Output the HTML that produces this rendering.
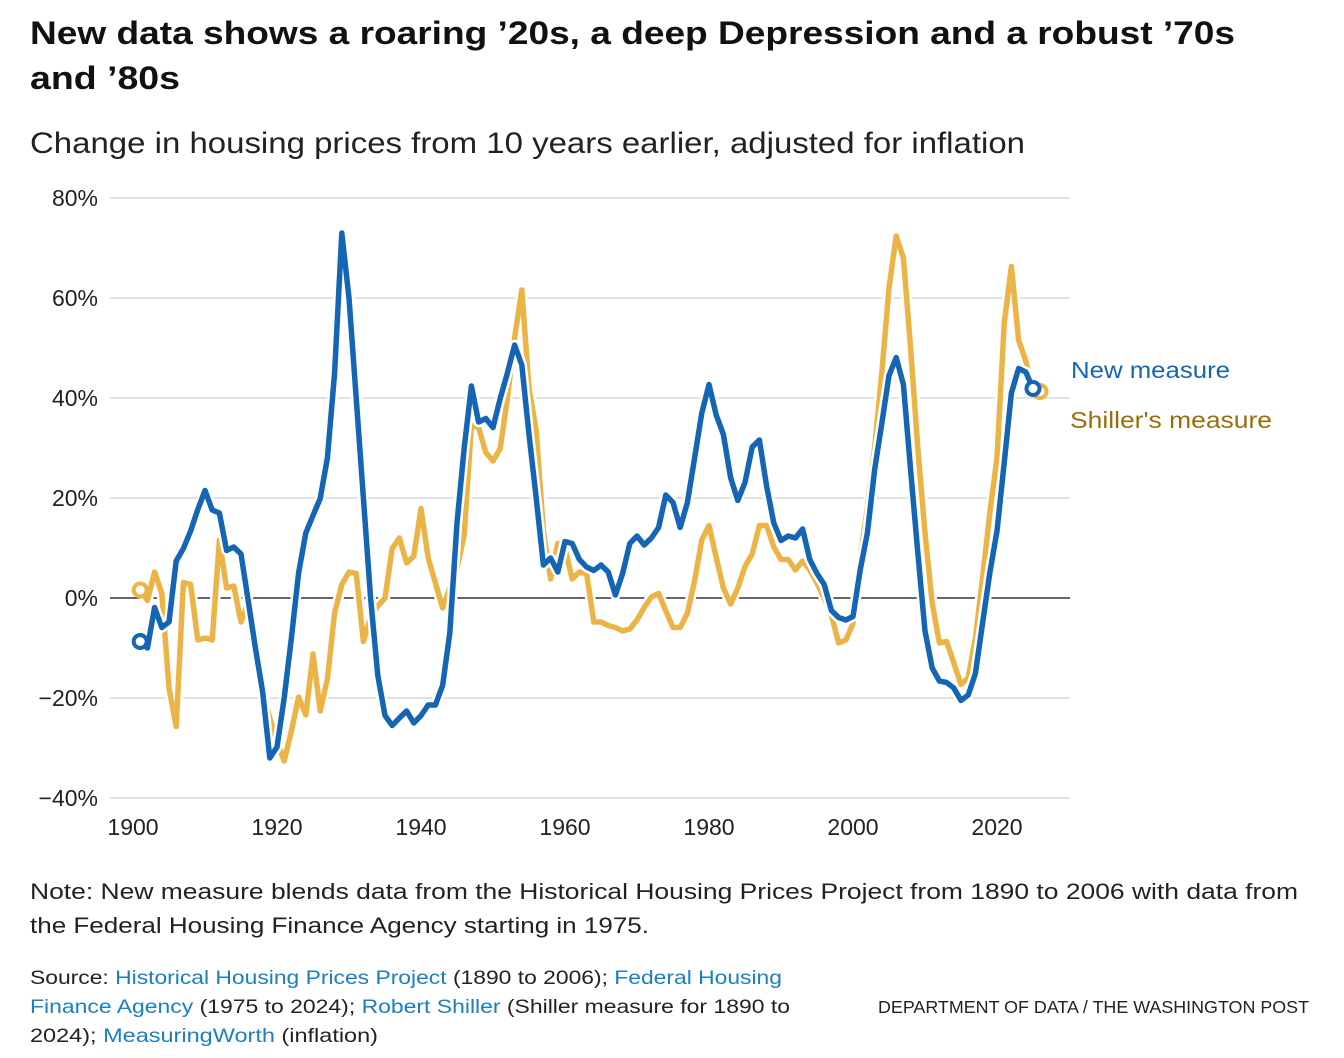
<!DOCTYPE html>
<html><head><meta charset="utf-8"><style>
html,body{margin:0;padding:0;background:#fff;}
svg{display:block;font-family:"Liberation Sans",Arial,sans-serif;}
</style></head><body>
<svg id="chart" width="1344" height="1058" viewBox="0 0 1344 1058">
<text x="30" y="44" font-size="32" font-weight="bold" fill="#111" textLength="1205" lengthAdjust="spacingAndGlyphs">New data shows a roaring ’20s, a deep Depression and a robust ’70s</text>
<text x="30" y="89" font-size="32" font-weight="bold" fill="#111" textLength="150" lengthAdjust="spacingAndGlyphs">and ’80s</text>
<text x="30" y="153" font-size="30" fill="#222" textLength="995" lengthAdjust="spacingAndGlyphs">Change in housing prices from 10 years earlier, adjusted for inflation</text>
<g id="grid"></g>
<g id="yticks"></g>
<g id="xticks"></g>
<g id="series"></g>
<text x="1071" y="378" font-size="23.5" fill="#1565b5" textLength="159" lengthAdjust="spacingAndGlyphs">New measure</text>
<text x="1070" y="428" font-size="23.5" fill="#9a6d0a" textLength="202" lengthAdjust="spacingAndGlyphs">Shiller's measure</text>
<text x="30" y="899" font-size="22.5" fill="#222" textLength="1268" lengthAdjust="spacingAndGlyphs">Note: New measure blends data from the Historical Housing Prices Project from 1890 to 2006 with data from</text>
<text x="30" y="933" font-size="22.5" fill="#222" textLength="619" lengthAdjust="spacingAndGlyphs">the Federal Housing Finance Agency starting in 1975.</text>
<text x="30" y="984" font-size="19.5" fill="#222" textLength="752" lengthAdjust="spacingAndGlyphs">Source: <tspan fill="#1a7fc4">Historical Housing Prices Project</tspan> (1890 to 2006); <tspan fill="#1a7fc4">Federal Housing</tspan></text>
<text x="30" y="1013" font-size="19.5" fill="#222" textLength="760" lengthAdjust="spacingAndGlyphs"><tspan fill="#1a7fc4">Finance Agency</tspan> (1975 to 2024); <tspan fill="#1a7fc4">Robert Shiller</tspan> (Shiller measure for 1890 to</text>
<text x="30" y="1042" font-size="19.5" fill="#222" textLength="348" lengthAdjust="spacingAndGlyphs">2024); <tspan fill="#1a7fc4">MeasuringWorth</tspan> (inflation)</text>
<text x="1309" y="1013" font-size="17.5" fill="#222" text-anchor="end" textLength="431" lengthAdjust="spacingAndGlyphs">DEPARTMENT OF DATA / THE WASHINGTON POST</text>
</svg>
<script>
const startYear = 1901;
const newMeasure = [-8.7,-10,-1.9,-5.9,-4.8,7.4,9.9,13.4,17.7,21.5,17.6,17,9.5,10.2,8.8,-0.5,-10,-18.7,-32,-29.8,-20,-8,5,13,16.5,19.9,28,45,73,60,40,20,0,-15.5,-23.5,-25.5,-24,-22.6,-25,-23.5,-21.4,-21.4,-17.5,-7,15,30,42.4,35.2,35.9,34.1,39.9,45,50.6,46.6,32.7,20,6.6,8,5.2,11.3,10.9,7.7,6.2,5.5,6.6,5.2,0.6,4.9,10.9,12.4,10.6,12,14.1,20.6,19.1,14.1,19.1,28,37,42.7,36.6,32.7,24.1,19.5,23.1,30.2,31.6,22.4,15,11.5,12.4,12,13.8,7.7,4.9,2.7,-2.5,-3.9,-4.4,-3.7,5.6,13,25.6,34.9,44.5,48.1,42.7,25.6,9.1,-6.6,-14,-16.6,-16.9,-18,-20.5,-19.4,-15.1,-5,5,13.4,27,41,45.9,45.2,41.9];
const shiller = [1.6,-0.5,5.2,0.9,-18,-25.7,3.1,2.7,-8.4,-8,-8.4,11.6,2,2.4,-4.8,-1,-10,-19,-24,-28.7,-32.6,-26.6,-19.8,-23.4,-11.2,-22.6,-16.2,-3,2.7,5.2,4.9,-8.7,-3.7,-1.6,0,9.9,12,7,8.4,17.9,8,3,-2,2,6,12.6,34.5,34.1,29.1,27.4,29.9,39.9,52,61.6,42,33.4,13.4,3.8,10.9,9.9,3.8,5.2,4.9,-4.8,-4.8,-5.5,-5.9,-6.6,-6.2,-4.4,-1.9,0.2,0.9,-2.6,-5.9,-5.9,-3,3.4,11.6,14.5,8.1,2,-1.2,2,6.3,8.8,14.5,14.5,10.2,7.7,7.7,5.6,7.4,5.6,3,0,-3.4,-9,-8.4,-5.1,8,18,30,45,62,72.4,68,50,30,13,-1,-9,-8.7,-13,-17.3,-16,-8,4,17,28,54.9,66.3,51.6,47.4,41.3];
const yTicks = [80,60,40,20,0,-20,-40];
const yTickLabels = ["80%","60%","40%","20%","0%","\u221220%","\u221240%"];
const xTicks = [1900,1920,1940,1960,1980,2000,2020];

const NS = "http://www.w3.org/2000/svg";
const xs = y => 133 + (y - 1900) * 7.2;
const ys = v => 598 - v * 5;
function mk(tag, attrs, parent){const e=document.createElementNS(NS,tag);for(const k in attrs)e.setAttribute(k,attrs[k]);parent.appendChild(e);return e;}
const grid=document.getElementById('grid'), yt=document.getElementById('yticks'), xt=document.getElementById('xticks'), ser=document.getElementById('series');
yTicks.forEach((t,i)=>{
  const l=mk('line',{x1:110,x2:1070,y1:ys(t),y2:ys(t),stroke:t===0?'#333':'#d9d9d9','stroke-width':1.5},grid);
  
  
  const tx=mk('text',{x:98,y:ys(t)+8,'font-size':23,fill:'#222','text-anchor':'end'},yt);
  tx.textContent=yTickLabels[i];
  
  
});
xTicks.forEach(t=>{
  const tx=mk('text',{x:xs(t),y:835,'font-size':23,fill:'#222','text-anchor':'middle'},xt);
  tx.textContent=t;
  
  
});
function drawSeries(vals,color,name){
  const d=vals.map((v,i)=>(i?'L':'M')+xs(startYear+i).toFixed(1)+','+ys(v).toFixed(1)).join('');
  const halo=mk('path',{d:d,fill:'none',stroke:'#fff','stroke-width':10.5,'stroke-linejoin':'round'},ser);
  
  
  const p=mk('path',{d:d,fill:'none',stroke:color,'stroke-width':5.5,'stroke-linejoin':'round'},ser);
  
  
  [0,vals.length-1].forEach((i,k)=>{
    const c=mk('circle',{cx:xs(startYear+i)+(k&&name==='shiller'?7:0),cy:ys(vals[i]),r:6.5,fill:'#fff',stroke:color,'stroke-width':4},ser);
    
    
  });
}
drawSeries(shiller,'#ecb447','shiller');
drawSeries(newMeasure,'#1565b5','new-measure');
</script>
</body></html>
